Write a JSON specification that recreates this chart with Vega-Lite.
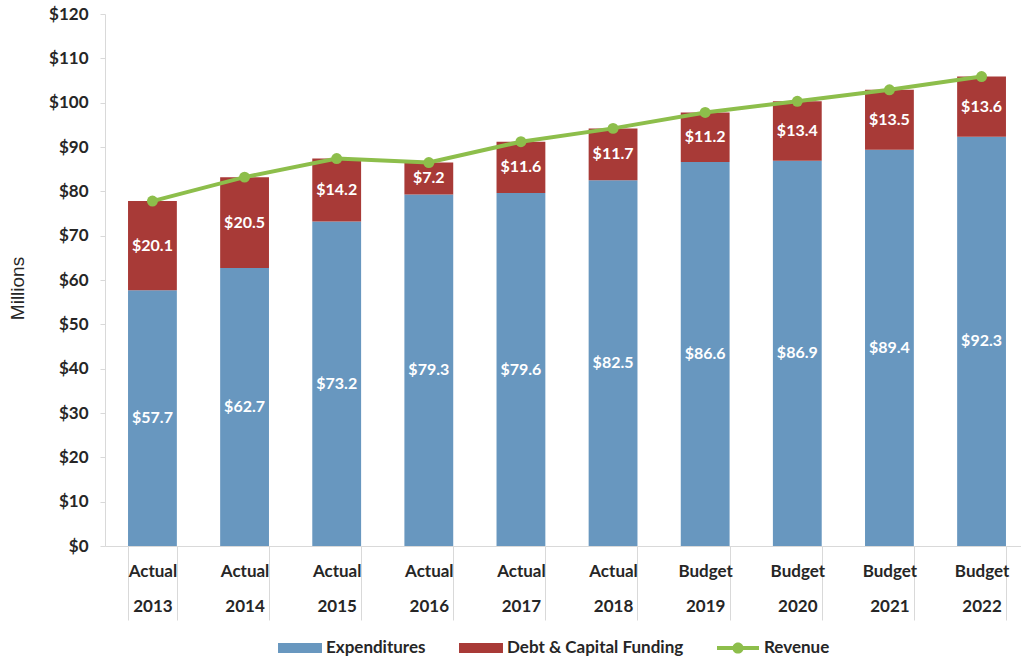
{
  "$schema": "https://vega.github.io/schema/vega-lite/v6.json",
  "width": 924,
  "height": 532,
  "autosize": {"type": "none"},
  "padding": {"left": 105, "top": 14, "right": 0, "bottom": 117},
  "background": "white",
  "config": {"view": {"stroke": null}, "font": "Lato"},
  "datasets": {
    "bars": [
      {"cat": "Actual|2013", "series": "Expenditures", "value": 57.7},
      {"cat": "Actual|2013", "series": "Debt & Capital Funding", "value": 20.1},
      {"cat": "Actual|2014", "series": "Expenditures", "value": 62.7},
      {"cat": "Actual|2014", "series": "Debt & Capital Funding", "value": 20.5},
      {"cat": "Actual|2015", "series": "Expenditures", "value": 73.2},
      {"cat": "Actual|2015", "series": "Debt & Capital Funding", "value": 14.2},
      {"cat": "Actual|2016", "series": "Expenditures", "value": 79.3},
      {"cat": "Actual|2016", "series": "Debt & Capital Funding", "value": 7.2},
      {"cat": "Actual|2017", "series": "Expenditures", "value": 79.6},
      {"cat": "Actual|2017", "series": "Debt & Capital Funding", "value": 11.6},
      {"cat": "Actual|2018", "series": "Expenditures", "value": 82.5},
      {"cat": "Actual|2018", "series": "Debt & Capital Funding", "value": 11.7},
      {"cat": "Budget|2019", "series": "Expenditures", "value": 86.6},
      {"cat": "Budget|2019", "series": "Debt & Capital Funding", "value": 11.2},
      {"cat": "Budget|2020", "series": "Expenditures", "value": 86.9},
      {"cat": "Budget|2020", "series": "Debt & Capital Funding", "value": 13.4},
      {"cat": "Budget|2021", "series": "Expenditures", "value": 89.4},
      {"cat": "Budget|2021", "series": "Debt & Capital Funding", "value": 13.5},
      {"cat": "Budget|2022", "series": "Expenditures", "value": 92.3},
      {"cat": "Budget|2022", "series": "Debt & Capital Funding", "value": 13.6}
    ],
    "rev": [
      {"cat": "Actual|2013", "revenue": 77.8},
      {"cat": "Actual|2014", "revenue": 83.2},
      {"cat": "Actual|2015", "revenue": 87.4},
      {"cat": "Actual|2016", "revenue": 86.5},
      {"cat": "Actual|2017", "revenue": 91.2},
      {"cat": "Actual|2018", "revenue": 94.2},
      {"cat": "Budget|2019", "revenue": 97.8},
      {"cat": "Budget|2020", "revenue": 100.3},
      {"cat": "Budget|2021", "revenue": 102.9},
      {"cat": "Budget|2022", "revenue": 105.9}
    ]
  },
  "encoding": {
    "x": {
      "field": "cat",
      "type": "nominal",
      "sort": null,
      "scale": {
        "domain": ["Actual|2013", "Actual|2014", "Actual|2015", "Actual|2016", "Actual|2017", "Actual|2018", "Budget|2019", "Budget|2020", "Budget|2021", "Budget|2022"],
        "paddingInner": 0.47,
        "paddingOuter": 0.25
      },
      "axis": {
        "title": null,
        "labelExpr": "isValid(datum.value) ? split(datum.value, '|') : ''",
        "labelAngle": 0,
        "labelFont": "Lato",
        "labelFontWeight": "bold",
        "labelFontSize": 17,
        "labelColor": "#262626",
        "labelLineHeight": 35,
        "labelBaseline": "top",
        "labelPadding": -57,
        "labelOverlap": false,
        "tickBand": "extent",
        "tickSize": 74,
        "tickColor": "#d9d9d9",
        "domainColor": "#d9d9d9"
      }
    }
  },
  "layer": [
    {
      "data": {"name": "bars"},
      "mark": {"type": "bar"},
      "encoding": {
        "y": {
          "field": "value",
          "type": "quantitative",
          "stack": "zero",
          "title": "Millions",
          "scale": {"domain": [0, 120], "nice": false},
          "axis": {
            "title": "Millions",
            "titleX": -88,
            "titleY": 274,
            "titleAngle": -90,
            "titleAlign": "center",
            "titleBaseline": "middle",
            "titleFont": "Liberation Sans",
            "titleFontWeight": "normal",
            "titleFontSize": 19,
            "titleColor": "#262626",
            "values": [0, 10, 20, 30, 40, 50, 60, 70, 80, 90, 100, 110, 120],
            "format": "$,.0f",
            "labelFont": "Lato",
            "labelFontWeight": "bold",
            "labelFontSize": 17,
            "labelColor": "#262626",
            "labelPadding": 12,
            "tickSize": 5,
            "tickColor": "#d9d9d9",
            "domainColor": "#d9d9d9",
            "grid": false
          }
        },
        "color": {
          "field": "series",
          "type": "nominal",
          "scale": {
            "domain": ["Expenditures", "Debt & Capital Funding", "Revenue"],
            "range": ["#6897bf", "#a83a37", "#8dbe4b"]
          },
          "legend": {
            "orient": "none",
            "legendX": 181,
            "legendY": 620,
            "direction": "horizontal",
            "title": null,
            "labelFont": "Lato",
            "labelFontSize": 17,
            "labelFontWeight": "bold",
            "labelColor": "#262626",
            "labelLimit": 400,
            "symbolSize": 784,
            "labelOffset": 12,
            "columnPadding": 33,
            "encode": {
              "symbols": {
                "update": {
                  "shape": {"signal": "datum.value === 'Revenue' ? 'M-1.5,-0.14H1.5V0.14H-1.5Z M-0.4,0A0.4,0.4,0,1,1,0.4,0A0.4,0.4,0,1,1,-0.4,0Z' : 'M-1.57,-0.36H1.57V0.36H-1.57Z'"},
                  "fill": {"scale": "color", "field": "value"},
                  "stroke": {"value": "transparent"},
                  "strokeWidth": {"value": 0},
                  "opacity": {"value": 1}
                }
              }
            }
          }
        },
        "order": {"field": "series", "sort": "descending"}
      }
    },
    {
      "data": {"name": "bars"},
      "transform": [
        {"stack": "value", "groupby": ["cat"], "sort": [{"field": "series", "order": "descending"}], "as": ["v0", "v1"]},
        {"fold": ["v0", "v1"], "as": ["edge", "pos"]},
        {"aggregate": [{"op": "mean", "field": "pos", "as": "mid"}, {"op": "max", "field": "value", "as": "val"}], "groupby": ["cat", "series"]}
      ],
      "mark": {"type": "text", "color": "white", "font": "Lato", "fontWeight": "bold", "fontSize": 16, "baseline": "middle", "align": "center"},
      "encoding": {
        "y": {"field": "mid", "type": "quantitative", "title": "Millions"},
        "text": {"field": "val", "type": "quantitative", "format": "$.1f"}
      }
    },
    {
      "data": {"name": "rev"},
      "mark": {"type": "line", "strokeWidth": 4},
      "encoding": {
        "y": {"field": "revenue", "type": "quantitative", "title": "Millions"},
        "color": {"datum": "Revenue", "type": "nominal"}
      }
    },
    {
      "data": {"name": "rev"},
      "mark": {"type": "point", "filled": true, "size": 120, "opacity": 1},
      "encoding": {
        "y": {"field": "revenue", "type": "quantitative", "title": "Millions"},
        "color": {"datum": "Revenue", "type": "nominal"}
      }
    }
  ]
}
